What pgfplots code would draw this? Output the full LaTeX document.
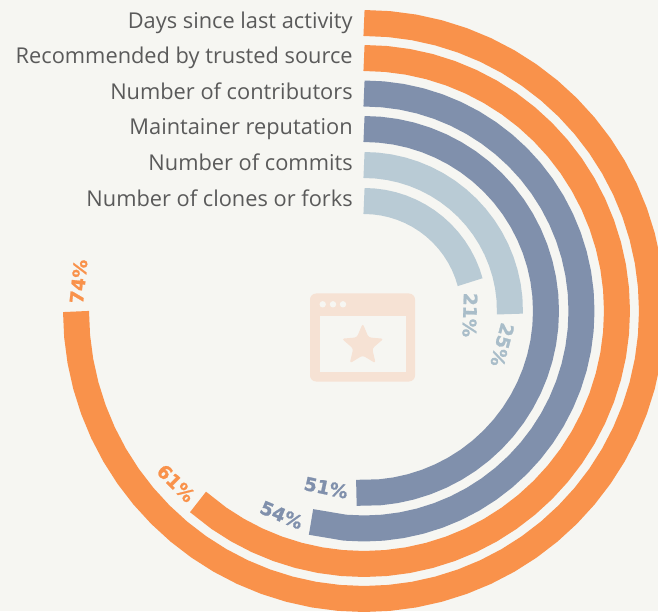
\documentclass[border=0pt]{standalone}
\usepackage{fontspec}
\setmainfont{Open Sans}
\newfontfamily\pctfont[BoldFeatures={FakeBold=1.2}]{DejaVu Sans}
\usepackage{pgfplots}
\pgfplotsset{compat=1.18}
\definecolor{bgc}{HTML}{F6F6F2}
\definecolor{orangec}{HTML}{F9924B}
\definecolor{bluec}{HTML}{8090AC}
\definecolor{palec}{HTML}{B9CBD5}
\definecolor{palelab}{HTML}{A9BDC9}
\definecolor{textc}{HTML}{5A5A5A}
\definecolor{iconc}{HTML}{F6E2D4}
\pgfplotsset{
  track/.style={line width=26pt, line cap=butt, line join=round, mark=none},
  pct/.style={draw=none, mark=none, forget plot},
}
\newcommand{\pctlabel}[3]{node[font=\pctfont\bfseries\fontsize{18.5}{19}\selectfont, text=#1, rotate=#2, inner sep=0pt, anchor=center] {#3}}
\begin{document}
\begin{tikzpicture}[x=1pt,y=1pt]
\fill[bgc] (0,0) rectangle (658,611);
\useasboundingbox (0,0) rectangle (658,611);
\begin{axis}[
  at={(0,0)}, anchor=south west,
  scale only axis, width=658pt, height=611pt,
  data cs=polar,
  xmin=-364, xmax=294, ymin=-300, ymax=311,
  axis y line=center, axis x line=none,
  axis line style={draw=none},
  tick style={draw=none},
  xtick=\empty,
  ytick={282.5,247,211,176,140,104.5},
  yticklabels={Days since last activity,Recommended by trusted source,Number of contributors,Maintainer reputation,Number of commits,Number of clones or forks},
  yticklabel style={anchor=base east, inner sep=0pt, xshift=-9pt, text=textc, font=\fontsize{21.8}{26}\selectfont},
]
\addplot[track, orangec] coordinates {(90,288)(85,288)(80,288)(75,288)(70,288)(65,288)(60,288)(55,288)(50,288)(45,288)(40,288)(35,288)(30,288)(25,288)(20,288)(15,288)(10,288)(5,288)(0,288)(-5,288)(-10,288)(-15,288)(-20,288)(-25,288)(-30,288)(-35,288)(-40,288)(-45,288)(-50,288)(-55,288)(-60,288)(-65,288)(-70,288)(-75,288)(-80,288)(-85,288)(-90,288)(-95,288)(-100,288)(-105,288)(-110,288)(-115,288)(-120,288)(-125,288)(-130,288)(-135,288)(-140,288)(-145,288)(-150,288)(-155,288)(-160,288)(-165,288)(-170,288)(-175,288)(-179.9,288)};
\addplot[track, orangec] coordinates {(90,253)(85,253)(80,253)(75,253)(70,253)(65,253)(60,253)(55,253)(50,253)(45,253)(40,253)(35,253)(30,253)(25,253)(20,253)(15,253)(10,253)(5,253)(0,253)(-5,253)(-10,253)(-15,253)(-20,253)(-25,253)(-30,253)(-35,253)(-40,253)(-45,253)(-50,253)(-55,253)(-60,253)(-65,253)(-70,253)(-75,253)(-80,253)(-85,253)(-90,253)(-95,253)(-100,253)(-105,253)(-110,253)(-115,253)(-120,253)(-125,253)(-131,253)};
\addplot[track, bluec] coordinates {(90,217.5)(85,217.5)(80,217.5)(75,217.5)(70,217.5)(65,217.5)(60,217.5)(55,217.5)(50,217.5)(45,217.5)(40,217.5)(35,217.5)(30,217.5)(25,217.5)(20,217.5)(15,217.5)(10,217.5)(5,217.5)(0,217.5)(-5,217.5)(-10,217.5)(-15,217.5)(-20,217.5)(-25,217.5)(-30,217.5)(-35,217.5)(-40,217.5)(-45,217.5)(-50,217.5)(-55,217.5)(-60,217.5)(-65,217.5)(-70,217.5)(-75,217.5)(-80,217.5)(-85,217.5)(-90,217.5)(-95,217.5)(-104.1,217.5)};
\addplot[track, bluec] coordinates {(90,182)(85,182)(80,182)(75,182)(70,182)(65,182)(60,182)(55,182)(50,182)(45,182)(40,182)(35,182)(30,182)(25,182)(20,182)(15,182)(10,182)(5,182)(0,182)(-5,182)(-10,182)(-15,182)(-20,182)(-25,182)(-30,182)(-35,182)(-40,182)(-45,182)(-50,182)(-55,182)(-60,182)(-65,182)(-70,182)(-75,182)(-80,182)(-85,182)(-92.4,182)};
\addplot[track, palec] coordinates {(90,146)(85,146)(80,146)(75,146)(70,146)(65,146)(60,146)(55,146)(50,146)(45,146)(40,146)(35,146)(30,146)(25,146)(20,146)(15,146)(10,146)(5,146)(-1.2,146)};
\addplot[track, palec] coordinates {(90,110)(85,110)(80,110)(75,110)(70,110)(65,110)(60,110)(55,110)(50,110)(45,110)(40,110)(35,110)(30,110)(25,110)(20,110)(15.2,110)};
% value labels sit at the end of each arc
\addplot[pct] coordinates {(174.1,287)} \pctlabel{orangec}{84}{74\%};
\addplot[pct] coordinates {(222.5,255)} \pctlabel{orangec}{-45}{61\%};
\addplot[pct] coordinates {(248,220)} \pctlabel{bluec}{-23}{54\%};
\addplot[pct] coordinates {(257.9,180.7)} \pctlabel{bluec}{-12}{51\%};
\addplot[pct] coordinates {(-13.8,142.4)} \pctlabel{palelab}{-105}{25\%};
\addplot[pct] coordinates {(-2.2,106)} \pctlabel{palelab}{-92}{21\%};
\end{axis}
% browser window icon in the middle
\fill[iconc, rounded corners=6pt] (310,229.5) rectangle (415,317.5);
\fill[bgc] (320,239.5) rectangle (405.7,295);
\foreach \cx in {322.7,333,343} \fill[bgc] (\cx,306.7) circle (3.2);
\begin{scope}[shift={(362.7,265.5)}]
\fill[iconc, rounded corners=2.5pt] (90:22)--(126:10)--(162:22)--(198:10)--(234:22)--(270:10)--(306:22)--(342:10)--(18:22)--(54:10)--cycle;
\end{scope}
\end{tikzpicture}
\end{document}
